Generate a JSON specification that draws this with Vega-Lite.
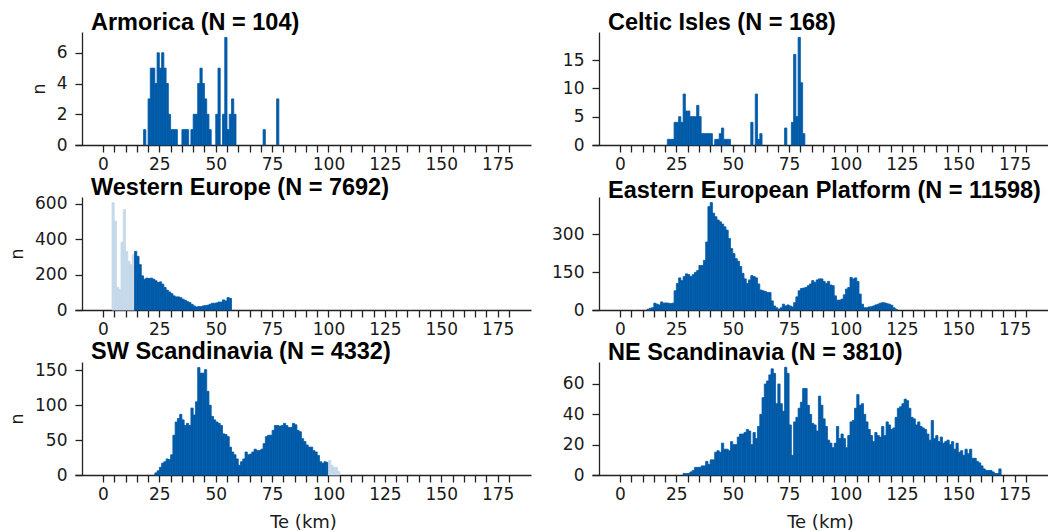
{
  "$schema": "https://vega.github.io/schema/vega-lite/v6.json",
  "background": "white",
  "padding": {"left": 8, "top": 10, "right": 0, "bottom": 0},
  "config": {
    "view": {"stroke": null},
    "axis": {"grid": false, "domainColor": "#222222", "domainWidth": 1.3, "tickColor": "#222222", "tickWidth": 1.3, "tickSize": 7, "labelFont": "DejaVu Sans", "labelFontSize": 17, "labelColor": "#1a1a1a", "titleFont": "DejaVu Sans", "titleFontSize": 18, "titleFontWeight": "normal", "titleColor": "#1a1a1a", "labelFlush": false, "labelOverlap": false},
    "axisY": {"offset": -7, "labelPadding": 8, "titlePadding": 8},
    "axisX": {"labelPadding": 4, "titlePadding": 11},
    "title": {"anchor": "start", "frame": "group", "font": "Liberation Sans", "fontSize": 23.5, "fontWeight": "bold", "color": "#000000", "offset": -2, "baseline": "alphabetic", "dx": 16},
    "bar": {"strokeWidth": 0.8}
  },
  "columns": 2,
  "bounds": "flush",
  "spacing": {"row": 52, "column": 61},
  "resolve": {"scale": {"x": "independent", "y": "independent"}, "axis": {"x": "independent", "y": "independent"}},
  "datasets": {
    "armorica": [
      {"x0":18,"x1":19,"n":1},{"x0":20,"x1":21,"n":3},{"x0":21,"x1":22,"n":5},{"x0":22,"x1":23,"n":5},{"x0":23,"x1":24,"n":4},{"x0":24,"x1":25,"n":6},{"x0":25,"x1":26,"n":5},{"x0":26,"x1":27,"n":6},{"x0":27,"x1":28,"n":5},{"x0":28,"x1":29,"n":4},{"x0":29,"x1":30,"n":2},{"x0":30,"x1":31,"n":1},{"x0":31,"x1":32,"n":1},{"x0":32,"x1":33,"n":1},{"x0":35,"x1":36,"n":1},{"x0":36,"x1":37,"n":1},{"x0":37,"x1":38,"n":1},{"x0":39,"x1":40,"n":1},{"x0":40,"x1":41,"n":2},{"x0":41,"x1":42,"n":2},{"x0":42,"x1":43,"n":4},{"x0":43,"x1":44,"n":5},{"x0":44,"x1":45,"n":4},{"x0":45,"x1":46,"n":3},{"x0":46,"x1":47,"n":2},{"x0":47,"x1":48,"n":1},{"x0":50,"x1":51,"n":2},{"x0":51,"x1":52,"n":5},{"x0":53,"x1":54,"n":2},{"x0":54,"x1":55,"n":7},{"x0":55,"x1":56,"n":1},{"x0":56,"x1":57,"n":2},{"x0":57,"x1":58,"n":3},{"x0":58,"x1":59,"n":2},{"x0":71,"x1":72,"n":1},{"x0":77,"x1":78,"n":3}
    ],
    "celtic": [
      {"x0":21,"x1":22,"n":1},{"x0":22,"x1":23,"n":1},{"x0":23,"x1":24,"n":1},{"x0":24,"x1":25,"n":4},{"x0":25,"x1":26,"n":4},{"x0":26,"x1":27,"n":5},{"x0":27,"x1":28,"n":4},{"x0":28,"x1":29,"n":9},{"x0":29,"x1":30,"n":6},{"x0":30,"x1":31,"n":6},{"x0":31,"x1":32,"n":5},{"x0":32,"x1":33,"n":5},{"x0":33,"x1":34,"n":5},{"x0":34,"x1":35,"n":7},{"x0":35,"x1":36,"n":5},{"x0":36,"x1":37,"n":2},{"x0":37,"x1":38,"n":2},{"x0":38,"x1":39,"n":2},{"x0":39,"x1":40,"n":2},{"x0":40,"x1":41,"n":2},{"x0":42,"x1":43,"n":1},{"x0":43,"x1":44,"n":1},{"x0":44,"x1":45,"n":2},{"x0":45,"x1":46,"n":3},{"x0":46,"x1":47,"n":1},{"x0":47,"x1":48,"n":1},{"x0":48,"x1":49,"n":1},{"x0":58,"x1":59,"n":4},{"x0":60,"x1":61,"n":9},{"x0":61,"x1":62,"n":1},{"x0":62,"x1":63,"n":2},{"x0":73,"x1":74,"n":3},{"x0":76,"x1":77,"n":4},{"x0":77,"x1":78,"n":16},{"x0":78,"x1":79,"n":5},{"x0":79,"x1":80,"n":19},{"x0":80,"x1":81,"n":11},{"x0":81,"x1":82,"n":2}
    ],
    "western": [
      {"x0":4,"x1":5,"n":606,"g":"out"},{"x0":5,"x1":6,"n":502,"g":"out"},{"x0":6,"x1":7,"n":127,"g":"out"},{"x0":7,"x1":8,"n":117,"g":"out"},{"x0":8,"x1":9,"n":383,"g":"out"},{"x0":9,"x1":10,"n":568,"g":"out"},{"x0":10,"x1":11,"n":331,"g":"out"},{"x0":11,"x1":12,"n":275,"g":"out"},{"x0":12,"x1":13,"n":256,"g":"out"},{"x0":13,"x1":14,"n":312,"g":"out"},
      {"x0":14,"x1":15,"n":331},{"x0":15,"x1":16,"n":303},{"x0":16,"x1":17,"n":256},{"x0":17,"x1":18,"n":193},{"x0":18,"x1":19,"n":174},{"x0":19,"x1":20,"n":180},{"x0":20,"x1":21,"n":178},{"x0":21,"x1":22,"n":180},{"x0":22,"x1":23,"n":174},{"x0":23,"x1":24,"n":165},{"x0":24,"x1":25,"n":155},{"x0":25,"x1":26,"n":159},{"x0":26,"x1":27,"n":146},{"x0":27,"x1":28,"n":127},{"x0":28,"x1":29,"n":112},{"x0":29,"x1":30,"n":102},{"x0":30,"x1":31,"n":93},{"x0":31,"x1":32,"n":80},{"x0":32,"x1":33,"n":74},{"x0":33,"x1":34,"n":74},{"x0":34,"x1":35,"n":70},{"x0":35,"x1":36,"n":61},{"x0":36,"x1":37,"n":55},{"x0":37,"x1":38,"n":47},{"x0":38,"x1":39,"n":42},{"x0":39,"x1":40,"n":32},{"x0":40,"x1":41,"n":23},{"x0":41,"x1":42,"n":17},{"x0":42,"x1":43,"n":19},{"x0":43,"x1":44,"n":19},{"x0":44,"x1":45,"n":23},{"x0":45,"x1":46,"n":25},{"x0":46,"x1":47,"n":27},{"x0":47,"x1":48,"n":32},{"x0":48,"x1":49,"n":38},{"x0":49,"x1":50,"n":38},{"x0":50,"x1":51,"n":40},{"x0":51,"x1":52,"n":45},{"x0":52,"x1":53,"n":45},{"x0":53,"x1":54,"n":57},{"x0":54,"x1":55,"n":51},{"x0":55,"x1":56,"n":70},{"x0":56,"x1":57,"n":66}
    ],
    "eastern": [
      {"x0":12,"x1":13,"n":3},{"x0":13,"x1":14,"n":7},{"x0":14,"x1":15,"n":9},{"x0":15,"x1":16,"n":27},{"x0":16,"x1":17,"n":23},{"x0":17,"x1":18,"n":20},{"x0":18,"x1":19,"n":32},{"x0":19,"x1":20,"n":27},{"x0":20,"x1":21,"n":28},{"x0":21,"x1":22,"n":27},{"x0":22,"x1":23,"n":25},{"x0":23,"x1":24,"n":27},{"x0":24,"x1":25,"n":76},{"x0":25,"x1":26,"n":105},{"x0":26,"x1":27,"n":127},{"x0":27,"x1":28,"n":116},{"x0":28,"x1":29,"n":132},{"x0":29,"x1":30,"n":143},{"x0":30,"x1":31,"n":140},{"x0":31,"x1":32,"n":132},{"x0":32,"x1":33,"n":140},{"x0":33,"x1":34,"n":149},{"x0":34,"x1":35,"n":156},{"x0":35,"x1":36,"n":176},
      {"x0":36,"x1":37,"n":176},{"x0":37,"x1":38,"n":196},{"x0":38,"x1":39,"n":269},{"x0":39,"x1":40,"n":409},{"x0":40,"x1":41,"n":425},{"x0":41,"x1":42,"n":383},{"x0":42,"x1":43,"n":369},{"x0":43,"x1":44,"n":356},{"x0":44,"x1":45,"n":349},{"x0":45,"x1":46,"n":340},{"x0":46,"x1":47,"n":329},{"x0":47,"x1":48,"n":316},{"x0":48,"x1":49,"n":283},{"x0":49,"x1":50,"n":243},{"x0":50,"x1":51,"n":223},{"x0":51,"x1":52,"n":203},{"x0":52,"x1":53,"n":193},{"x0":53,"x1":54,"n":172},{"x0":54,"x1":55,"n":145},{"x0":55,"x1":56,"n":123},{"x0":56,"x1":57,"n":105},{"x0":57,"x1":58,"n":119},{"x0":58,"x1":59,"n":136},{"x0":59,"x1":60,"n":132},{"x0":60,"x1":61,"n":127},{"x0":61,"x1":62,"n":103},{"x0":62,"x1":63,"n":79},{"x0":63,"x1":64,"n":76},{"x0":64,"x1":65,"n":73},{"x0":65,"x1":66,"n":69},
      {"x0":66,"x1":67,"n":69},{"x0":67,"x1":68,"n":36},{"x0":68,"x1":69,"n":16},{"x0":69,"x1":70,"n":9},{"x0":70,"x1":71,"n":3},{"x0":71,"x1":72,"n":9},{"x0":72,"x1":73,"n":23},{"x0":73,"x1":74,"n":16},{"x0":74,"x1":75,"n":20},{"x0":75,"x1":76,"n":16},{"x0":76,"x1":77,"n":12},{"x0":77,"x1":78,"n":29},{"x0":78,"x1":79,"n":52},{"x0":79,"x1":80,"n":76},{"x0":80,"x1":81,"n":85},{"x0":81,"x1":82,"n":87},{"x0":82,"x1":83,"n":89},{"x0":83,"x1":84,"n":96},{"x0":84,"x1":85,"n":103},{"x0":85,"x1":86,"n":116},{"x0":86,"x1":87,"n":109},{"x0":87,"x1":88,"n":119},{"x0":88,"x1":89,"n":123},{"x0":89,"x1":90,"n":123},{"x0":90,"x1":91,"n":113},{"x0":91,"x1":92,"n":105},{"x0":92,"x1":93,"n":113},{"x0":93,"x1":94,"n":99},{"x0":94,"x1":95,"n":96},{"x0":95,"x1":96,"n":56},{"x0":96,"x1":97,"n":39},
      {"x0":97,"x1":98,"n":39},{"x0":98,"x1":99,"n":43},{"x0":99,"x1":100,"n":60},{"x0":100,"x1":101,"n":83},{"x0":101,"x1":102,"n":89},{"x0":102,"x1":103,"n":129},{"x0":103,"x1":104,"n":123},{"x0":104,"x1":105,"n":127},{"x0":105,"x1":106,"n":113},{"x0":106,"x1":107,"n":63},{"x0":107,"x1":108,"n":23},{"x0":108,"x1":109,"n":9},{"x0":109,"x1":110,"n":9},{"x0":110,"x1":111,"n":12},{"x0":111,"x1":112,"n":13},{"x0":112,"x1":113,"n":16},{"x0":113,"x1":114,"n":20},{"x0":114,"x1":115,"n":23},{"x0":115,"x1":116,"n":27},{"x0":116,"x1":117,"n":29},{"x0":117,"x1":118,"n":28},{"x0":118,"x1":119,"n":25},{"x0":119,"x1":120,"n":23},{"x0":120,"x1":121,"n":19},{"x0":121,"x1":122,"n":9},{"x0":122,"x1":123,"n":3}
    ],
    "sw": [
      {"x0":23,"x1":24,"n":3},{"x0":24,"x1":25,"n":6},{"x0":25,"x1":26,"n":11},{"x0":26,"x1":27,"n":17},{"x0":27,"x1":28,"n":19},{"x0":28,"x1":29,"n":23},{"x0":29,"x1":30,"n":22},{"x0":30,"x1":31,"n":29},{"x0":31,"x1":32,"n":57},{"x0":32,"x1":33,"n":76},{"x0":33,"x1":34,"n":81},{"x0":34,"x1":35,"n":87},{"x0":35,"x1":36,"n":79},{"x0":36,"x1":37,"n":71},{"x0":37,"x1":38,"n":74},{"x0":38,"x1":39,"n":71},{"x0":39,"x1":40,"n":96},{"x0":40,"x1":41,"n":86},{"x0":41,"x1":42,"n":105},{"x0":42,"x1":43,"n":154},{"x0":43,"x1":44,"n":146},
      {"x0":44,"x1":45,"n":146},{"x0":45,"x1":46,"n":151},{"x0":46,"x1":47,"n":120},{"x0":47,"x1":48,"n":100},{"x0":48,"x1":49,"n":84},{"x0":49,"x1":50,"n":79},{"x0":50,"x1":51,"n":76},{"x0":51,"x1":52,"n":74},{"x0":52,"x1":53,"n":71},{"x0":53,"x1":54,"n":59},{"x0":54,"x1":55,"n":58},{"x0":55,"x1":56,"n":55},{"x0":56,"x1":57,"n":40},{"x0":57,"x1":58,"n":33},{"x0":58,"x1":59,"n":29},{"x0":59,"x1":60,"n":23},{"x0":60,"x1":61,"n":14},{"x0":61,"x1":62,"n":19},{"x0":62,"x1":63,"n":23},{"x0":63,"x1":64,"n":33},{"x0":64,"x1":65,"n":29},{"x0":65,"x1":66,"n":30},{"x0":66,"x1":67,"n":33},{"x0":67,"x1":68,"n":37},{"x0":68,"x1":69,"n":35},{"x0":69,"x1":70,"n":35},{"x0":70,"x1":71,"n":37},{"x0":71,"x1":72,"n":45},{"x0":72,"x1":73,"n":55},{"x0":73,"x1":74,"n":57},
      {"x0":74,"x1":75,"n":57},{"x0":75,"x1":76,"n":64},{"x0":76,"x1":77,"n":71},{"x0":77,"x1":78,"n":71},{"x0":78,"x1":79,"n":70},{"x0":79,"x1":80,"n":71},{"x0":80,"x1":81,"n":74},{"x0":81,"x1":82,"n":71},{"x0":82,"x1":83,"n":68},{"x0":83,"x1":84,"n":68},{"x0":84,"x1":85,"n":74},{"x0":85,"x1":86,"n":72},{"x0":86,"x1":87,"n":64},{"x0":87,"x1":88,"n":62},{"x0":88,"x1":89,"n":52},{"x0":89,"x1":90,"n":48},{"x0":90,"x1":91,"n":43},{"x0":91,"x1":92,"n":40},{"x0":92,"x1":93,"n":40},{"x0":93,"x1":94,"n":35},{"x0":94,"x1":95,"n":33},{"x0":95,"x1":96,"n":28},{"x0":96,"x1":97,"n":19},{"x0":97,"x1":98,"n":17},{"x0":98,"x1":99,"n":19},{"x0":99,"x1":100,"n":18},
      {"x0":100,"x1":101,"n":21,"g":"out"},{"x0":101,"x1":102,"n":14,"g":"out"},{"x0":102,"x1":103,"n":11,"g":"out"},{"x0":103,"x1":104,"n":11,"g":"out"},{"x0":104,"x1":105,"n":5,"g":"out"}
    ],
    "ne": [
      {"x0":28,"x1":29,"n":1},{"x0":29,"x1":30,"n":1},{"x0":30,"x1":31,"n":1},{"x0":31,"x1":32,"n":2},{"x0":32,"x1":33,"n":3},{"x0":33,"x1":34,"n":5},{"x0":34,"x1":35,"n":5},{"x0":35,"x1":36,"n":5},{"x0":36,"x1":37,"n":6},{"x0":37,"x1":38,"n":6},{"x0":38,"x1":39,"n":9},{"x0":39,"x1":40,"n":7},{"x0":40,"x1":41,"n":10},{"x0":41,"x1":42,"n":10},{"x0":42,"x1":43,"n":15},{"x0":43,"x1":44,"n":16},{"x0":44,"x1":45,"n":15},{"x0":45,"x1":46,"n":21},{"x0":46,"x1":47,"n":17},{"x0":47,"x1":48,"n":17},{"x0":48,"x1":49,"n":16},{"x0":49,"x1":50,"n":22},{"x0":50,"x1":51,"n":20},{"x0":51,"x1":52,"n":20},{"x0":52,"x1":53,"n":25},{"x0":53,"x1":54,"n":27},{"x0":54,"x1":55,"n":27},{"x0":55,"x1":56,"n":28},{"x0":56,"x1":57,"n":30},{"x0":57,"x1":58,"n":29},{"x0":58,"x1":59,"n":20},{"x0":59,"x1":60,"n":28},{"x0":60,"x1":61,"n":24},{"x0":61,"x1":62,"n":32},{"x0":62,"x1":63,"n":40},{"x0":63,"x1":64,"n":51},{"x0":64,"x1":65,"n":60},{"x0":65,"x1":66,"n":62},{"x0":66,"x1":67,"n":66},{"x0":67,"x1":68,"n":70},{"x0":68,"x1":69,"n":67},
      {"x0":69,"x1":70,"n":47},{"x0":70,"x1":71,"n":60},{"x0":71,"x1":72,"n":47},{"x0":72,"x1":73,"n":42},{"x0":73,"x1":74,"n":71},{"x0":74,"x1":75,"n":67},{"x0":75,"x1":76,"n":33},{"x0":76,"x1":77,"n":13},{"x0":77,"x1":78,"n":35},{"x0":78,"x1":79,"n":38},{"x0":79,"x1":80,"n":44},{"x0":80,"x1":81,"n":48},{"x0":81,"x1":82,"n":57},{"x0":82,"x1":83,"n":57},{"x0":83,"x1":84,"n":46},{"x0":84,"x1":85,"n":40},
      {"x0":85,"x1":86,"n":34},{"x0":86,"x1":87,"n":33},{"x0":87,"x1":88,"n":29},{"x0":88,"x1":89,"n":52},{"x0":89,"x1":90,"n":46},{"x0":90,"x1":91,"n":37},{"x0":91,"x1":92,"n":32},{"x0":92,"x1":93,"n":23},{"x0":93,"x1":94,"n":21},{"x0":94,"x1":95,"n":18},{"x0":95,"x1":96,"n":21},{"x0":96,"x1":97,"n":32},{"x0":97,"x1":98,"n":24},{"x0":98,"x1":99,"n":27},{"x0":99,"x1":100,"n":24},{"x0":100,"x1":101,"n":18},{"x0":101,"x1":102,"n":26},{"x0":102,"x1":103,"n":35},{"x0":103,"x1":104,"n":36},{"x0":104,"x1":105,"n":44},{"x0":105,"x1":106,"n":53},{"x0":106,"x1":107,"n":46},{"x0":107,"x1":108,"n":47},{"x0":108,"x1":109,"n":40},{"x0":109,"x1":110,"n":35},{"x0":110,"x1":111,"n":30},{"x0":111,"x1":112,"n":26},{"x0":112,"x1":113,"n":22},{"x0":113,"x1":114,"n":28},{"x0":114,"x1":115,"n":26},
      {"x0":115,"x1":116,"n":25},{"x0":116,"x1":117,"n":32},{"x0":117,"x1":118,"n":26},{"x0":118,"x1":119,"n":35},{"x0":119,"x1":120,"n":33},{"x0":120,"x1":121,"n":30},{"x0":121,"x1":122,"n":31},{"x0":122,"x1":123,"n":38},{"x0":123,"x1":124,"n":44},{"x0":124,"x1":125,"n":45},{"x0":125,"x1":126,"n":47},{"x0":126,"x1":127,"n":50},{"x0":127,"x1":128,"n":49},{"x0":128,"x1":129,"n":44},{"x0":129,"x1":130,"n":38},{"x0":130,"x1":131,"n":37},{"x0":131,"x1":132,"n":33},{"x0":132,"x1":133,"n":35},{"x0":133,"x1":134,"n":32},{"x0":134,"x1":135,"n":31},{"x0":135,"x1":136,"n":30},{"x0":136,"x1":137,"n":27},{"x0":137,"x1":138,"n":23},{"x0":138,"x1":139,"n":36},{"x0":139,"x1":140,"n":24},{"x0":140,"x1":141,"n":26},{"x0":141,"x1":142,"n":22},{"x0":142,"x1":143,"n":25},{"x0":143,"x1":144,"n":21},{"x0":144,"x1":145,"n":22},
      {"x0":145,"x1":146,"n":23},{"x0":146,"x1":147,"n":20},{"x0":147,"x1":148,"n":22},{"x0":148,"x1":149,"n":17},{"x0":149,"x1":150,"n":21},{"x0":150,"x1":151,"n":15},{"x0":151,"x1":152,"n":16},{"x0":152,"x1":153,"n":13},{"x0":153,"x1":154,"n":17},{"x0":154,"x1":155,"n":14},{"x0":155,"x1":156,"n":17},{"x0":156,"x1":157,"n":11},{"x0":157,"x1":158,"n":11},{"x0":158,"x1":159,"n":9},{"x0":159,"x1":160,"n":8},{"x0":160,"x1":161,"n":6},{"x0":161,"x1":162,"n":4},{"x0":162,"x1":163,"n":3},{"x0":163,"x1":164,"n":3},{"x0":164,"x1":165,"n":3},{"x0":165,"x1":166,"n":2},{"x0":166,"x1":167,"n":1},{"x0":167,"x1":168,"n":1},{"x0":168,"x1":169,"n":4}
    ]
  },
  "concat": [
    {
      "width": 456, "height": 113,
      "data": {"name": "armorica"},
      "title": {"text": "Armorica (N = 104)"},
      "mark": {"type": "bar"},
      "encoding": {
        "x": {"field": "x0", "type": "quantitative", "scale": {"domain": [-12.4, 189.8], "nice": false, "zero": false}, "axis": {"title": null, "values": [0,5,10,15,20,25,30,35,40,45,50,55,60,65,70,75,80,85,90,95,100,105,110,115,120,125,130,135,140,145,150,155,160,165,170,175,180], "labelExpr": "datum.value % 25 === 0 ? datum.label : ''"}},
        "x2": {"field": "x1"},
        "y": {"field": "n", "type": "quantitative", "scale": {"domain": [0, 7.35], "nice": false}, "axis": {"values": [0, 2, 4, 6], "title": "n"}},
        "y2": {"datum": 0},
        "color": {"condition": {"test": "datum.g === 'out'", "value": "#c5d9eb"}, "value": "#005aa8"},
        "stroke": {"condition": {"test": "datum.g === 'out'", "value": "#c5d9eb"}, "value": "#005aa8"}
      }
    },
    {
      "width": 456, "height": 113,
      "data": {"name": "celtic"},
      "title": {"text": "Celtic Isles (N = 168)"},
      "mark": {"type": "bar"},
      "encoding": {
        "x": {"field": "x0", "type": "quantitative", "scale": {"domain": [-12.4, 189.8], "nice": false, "zero": false}, "axis": {"title": null, "values": [0,5,10,15,20,25,30,35,40,45,50,55,60,65,70,75,80,85,90,95,100,105,110,115,120,125,130,135,140,145,150,155,160,165,170,175,180], "labelExpr": "datum.value % 25 === 0 ? datum.label : ''"}},
        "x2": {"field": "x1"},
        "y": {"field": "n", "type": "quantitative", "scale": {"domain": [0, 19.95], "nice": false}, "axis": {"values": [0, 5, 10, 15], "title": null}},
        "y2": {"datum": 0},
        "color": {"condition": {"test": "datum.g === 'out'", "value": "#c5d9eb"}, "value": "#005aa8"},
        "stroke": {"condition": {"test": "datum.g === 'out'", "value": "#c5d9eb"}, "value": "#005aa8"}
      }
    },
    {
      "width": 456, "height": 113,
      "data": {"name": "western"},
      "title": {"text": "Western Europe (N = 7692)", "offset": -5},
      "mark": {"type": "bar"},
      "encoding": {
        "x": {"field": "x0", "type": "quantitative", "scale": {"domain": [-12.4, 189.8], "nice": false, "zero": false}, "axis": {"title": null, "values": [0,5,10,15,20,25,30,35,40,45,50,55,60,65,70,75,80,85,90,95,100,105,110,115,120,125,130,135,140,145,150,155,160,165,170,175,180], "labelExpr": "datum.value % 25 === 0 ? datum.label : ''"}},
        "x2": {"field": "x1"},
        "y": {"field": "n", "type": "quantitative", "scale": {"domain": [0, 638], "nice": false}, "axis": {"values": [0, 200, 400, 600], "title": "n"}},
        "y2": {"datum": 0},
        "color": {"condition": {"test": "datum.g === 'out'", "value": "#c5d9eb"}, "value": "#005aa8"},
        "stroke": {"condition": {"test": "datum.g === 'out'", "value": "#c5d9eb"}, "value": "#005aa8"}
      }
    },
    {
      "width": 456, "height": 113,
      "data": {"name": "eastern"},
      "title": {"text": "Eastern European Platform (N = 11598)", "offset": -5},
      "mark": {"type": "bar"},
      "encoding": {
        "x": {"field": "x0", "type": "quantitative", "scale": {"domain": [-12.4, 189.8], "nice": false, "zero": false}, "axis": {"title": null, "values": [0,5,10,15,20,25,30,35,40,45,50,55,60,65,70,75,80,85,90,95,100,105,110,115,120,125,130,135,140,145,150,155,160,165,170,175,180], "labelExpr": "datum.value % 25 === 0 ? datum.label : ''"}},
        "x2": {"field": "x1"},
        "y": {"field": "n", "type": "quantitative", "scale": {"domain": [0, 447], "nice": false}, "axis": {"values": [0, 150, 300], "title": null}},
        "y2": {"datum": 0},
        "color": {"condition": {"test": "datum.g === 'out'", "value": "#c5d9eb"}, "value": "#005aa8"},
        "stroke": {"condition": {"test": "datum.g === 'out'", "value": "#c5d9eb"}, "value": "#005aa8"}
      }
    },
    {
      "width": 456, "height": 113,
      "data": {"name": "sw"},
      "title": {"text": "SW Scandinavia (N = 4332)"},
      "mark": {"type": "bar"},
      "encoding": {
        "x": {"field": "x0", "type": "quantitative", "scale": {"domain": [-12.4, 189.8], "nice": false, "zero": false}, "axis": {"title": "Te (km)", "values": [0,5,10,15,20,25,30,35,40,45,50,55,60,65,70,75,80,85,90,95,100,105,110,115,120,125,130,135,140,145,150,155,160,165,170,175,180], "labelExpr": "datum.value % 25 === 0 ? datum.label : ''"}},
        "x2": {"field": "x1"},
        "y": {"field": "n", "type": "quantitative", "scale": {"domain": [0, 162], "nice": false}, "axis": {"values": [0, 50, 100, 150], "title": "n"}},
        "y2": {"datum": 0},
        "color": {"condition": {"test": "datum.g === 'out'", "value": "#c5d9eb"}, "value": "#005aa8"},
        "stroke": {"condition": {"test": "datum.g === 'out'", "value": "#c5d9eb"}, "value": "#005aa8"}
      }
    },
    {
      "width": 456, "height": 113,
      "data": {"name": "ne"},
      "title": {"text": "NE Scandinavia (N = 3810)"},
      "mark": {"type": "bar"},
      "encoding": {
        "x": {"field": "x0", "type": "quantitative", "scale": {"domain": [-12.4, 189.8], "nice": false, "zero": false}, "axis": {"title": "Te (km)", "values": [0,5,10,15,20,25,30,35,40,45,50,55,60,65,70,75,80,85,90,95,100,105,110,115,120,125,130,135,140,145,150,155,160,165,170,175,180], "labelExpr": "datum.value % 25 === 0 ? datum.label : ''"}},
        "x2": {"field": "x1"},
        "y": {"field": "n", "type": "quantitative", "scale": {"domain": [0, 74.5], "nice": false}, "axis": {"values": [0, 20, 40, 60], "title": null}},
        "y2": {"datum": 0},
        "color": {"condition": {"test": "datum.g === 'out'", "value": "#c5d9eb"}, "value": "#005aa8"},
        "stroke": {"condition": {"test": "datum.g === 'out'", "value": "#c5d9eb"}, "value": "#005aa8"}
      }
    }
  ]
}
